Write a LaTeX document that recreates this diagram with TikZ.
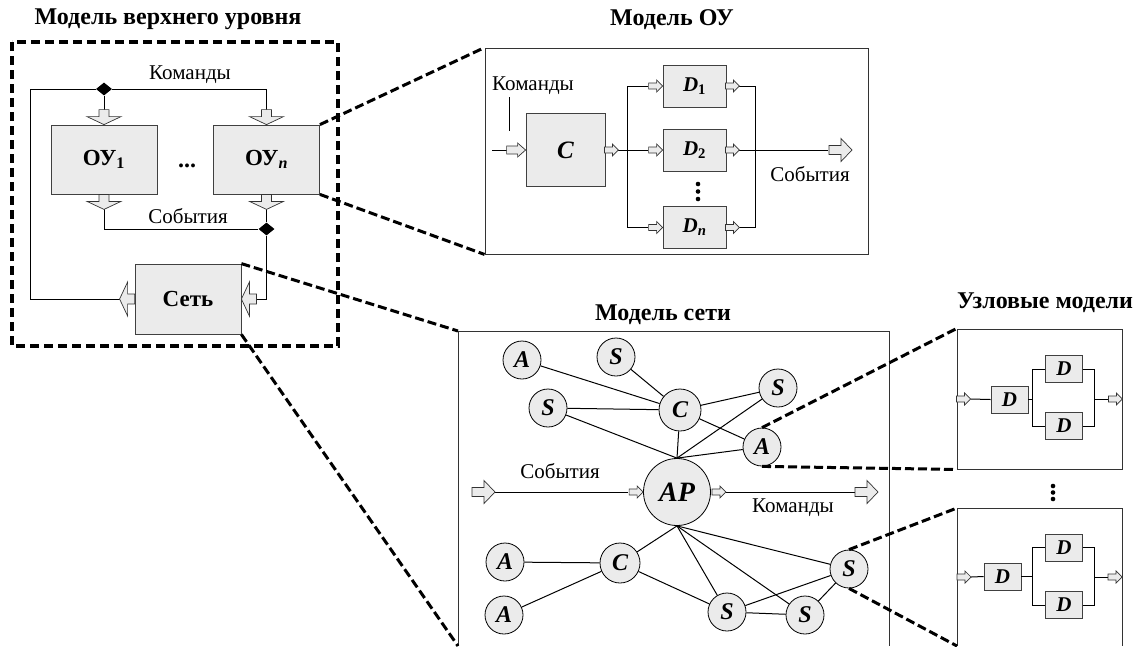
\documentclass[tikz,border=0pt]{standalone}
\usepackage{fontspec}
\setmainfont{Liberation Serif}
\usetikzlibrary{shapes.geometric,calc}
\definecolor{boxgray}{HTML}{EBEBEB}
\newcommand\fatarr[6]{\draw[farr,shift={(#1)},rotate=#2] (0pt,0pt) -- (-#6,#5) -- (-#6,#4) -- (-#3,#4) -- (-#3,-#4) -- (-#6,-#4) -- (-#6,-#5) -- cycle;}
\newcommand\arrA[2]{\fatarr{#1}{#2}{15pt}{5pt}{17pt}{8pt}}
\newcommand\arrS[2]{\fatarr{#1}{#2}{14pt}{3pt}{6pt}{6pt}}
\newcommand\arrM[2]{\fatarr{#1}{#2}{19pt}{4pt}{7pt}{8pt}}
\newcommand\arrL[2]{\fatarr{#1}{#2}{23pt}{4.5pt}{11.5pt}{11pt}}
\begin{document}
\begin{tikzpicture}[x=1pt,y=-1pt,
  farr/.style={draw=black!80,fill=boxgray,line width=0.7pt,line join=miter},
  ln/.style={draw=black,line width=1pt},
  box/.style={draw=black!75,fill=boxgray,line width=0.8pt,inner sep=0pt},
  tlbox/.style={box,minimum width=106,minimum height=69,font=\bfseries\fontsize{23}{26}\selectfont},
  dbox/.style={box,minimum width=63,minimum height=42,font=\bfseries\itshape\fontsize{21}{22}\selectfont},
  sbox/.style={box,minimum width=37,minimum height=27,font=\bfseries\itshape\fontsize{21}{22}\selectfont},
  circ/.style={circle,draw=black,fill=boxgray,line width=0.8pt,minimum size=38,inner sep=0pt,font=\bfseries\itshape\fontsize{24}{24}\selectfont},
  frame/.style={draw=black!80,line width=0.9pt},
  dia/.style={diamond,fill=black,inner sep=0pt,minimum width=16,minimum height=13},
  ttl/.style={font=\bfseries\fontsize{24}{28}\selectfont},
  lbl/.style={font=\fontsize{21}{24}\selectfont},
  framedash/.style={line width=3.5pt,dash pattern=on 9pt off 5pt},
  zoomline/.style={line width=3pt,dash pattern=on 9pt off 4pt},
  ]
\path[use as bounding box] (0,0) rectangle (1139,646);

% ---------- titles
\node[ttl] (t1) at (168,19) {Модель верхнего уровня};
\node[ttl] (t2) at (672,20) {Модель ОУ};
\node[ttl] (t3) at (663,315) {Модель сети};
\node[ttl] (t4) at (1045,303) {Узловые модели};

% ---------- top-level model
\draw[framedash] (12,42) rectangle (338,346);
\node[tlbox] (oy1) at (104,159.5) {ОУ\textsubscript{1}};
\node[tlbox] (oyn) at (266.5,159.5) {ОУ\textsubscript{\textit{n}}};
\node[font=\bfseries\fontsize{24}{26}\selectfont] (dd) at (187,166) {...};
\node[tlbox,minimum height=70] (net) at (188,299) {Сеть};
\node[dia] (dk) at (104,89) {};
\node[dia] (de) at (266.5,229) {};
\node[lbl] (lk) at (190,75) {Команды};
\node[lbl] (le) at (188,216) {События};
\coordinate (cl) at (30,89);

\draw[ln] (dk) -- ($(oy1.north)+(0,-15)$);
\draw[ln] ($(oyn.north)+(0,-15)$) |- (dk.east);
\draw[ln] (dk.west) -- (cl) |- ($(net.west)+(-15,0)$);
\draw[ln] ($(oy1.south)+(0,15)$) |- (de.west);
\draw[ln] ($(oyn.south)+(0,15)$) -- (de.north);
\draw[ln] (de.south) |- ($(net.east)+(15,0)$);
\arrA{oy1.north}{-90}
\arrA{oyn.north}{-90}
\arrA{$(oy1.south)+(0,15)$}{-90}
\arrA{$(oyn.south)+(0,15)$}{-90}
\arrA{net.east}{180}
\arrA{$(net.west)+(-15,0)$}{180}

% ---------- OY model
\node[frame,draw,minimum width=383,minimum height=206,inner sep=0pt] (oyb) at (676.5,151) {};
\node[box,minimum width=79,minimum height=73,font=\bfseries\itshape\fontsize{25}{26}\selectfont] (C) at (565.5,150) {C};
\node[dbox] (D1) at (694.5,86) {D\textsubscript{\textup{1}}};
\node[dbox] (D2) at (694.5,150) {D\textsubscript{\textup{2}}};
\node[dbox] (Dn) at (694.5,227.5) {D\textsubscript{n}};
\node[lbl] (lk2) at (533,86) {Команды};
\node[lbl] (le2) at (810,174) {События};
\coordinate (kin) at (492,150);
\coordinate (oyout) at (852,150);
\draw[ln] (509,97) -- (509,131);
\draw[ln] (kin) -- ($(C.west)+(-19,0)$);
\arrM{C.west}{0}
\draw[ln] ($(C.east)+(13,0)$) -- ($(D2.west)+(-15,0)$);
\arrS{$(C.east)+(13,0)$}{0}
\draw[ln] ($(D1.west)+(-15,0)$) -| ($(Dn.west)+(-35,0)$) -- ($(Dn.west)+(-15,0)$);
\arrS{D1.west}{0}
\arrS{D2.west}{0}
\arrS{Dn.west}{0}
\draw[ln] ($(D1.east)+(13,0)$) -| ($(Dn.east)+(29,0)$) -- ($(Dn.east)+(13,0)$);
\draw[ln] ($(D2.east)+(13,0)$) -- ($(oyout)+(-24,0)$);
\arrS{$(D1.east)+(13,0)$}{0}
\arrS{$(D2.east)+(13,0)$}{0}
\arrS{$(Dn.east)+(13,0)$}{0}
\arrL{oyout}{0}
\fill (698,184) circle (2.3) (698,191.5) circle (2.3) (698,199) circle (2.3);

% ---------- network model
\coordinate (nbtl) at (458,331);
\coordinate (nbbl) at (458,646);
\draw[frame] (nbbl) -- (nbtl) -- (889,331) -- (889,646);
\node[circ] (A1) at (522,360) {A};
\node[circ] (S1) at (616,357) {S};
\node[circ] (S2) at (548,408) {S};
\node[circ,minimum size=42] (C1) at (680,410) {C};
\node[circ] (S3) at (778,388) {S};
\node[circ] (A2) at (762,447) {A};
\node[circ,minimum size=67,font=\bfseries\itshape\fontsize{28}{28}\selectfont] (AP) at (677,492) {AP};
\node[circ] (A3) at (505,562) {A};
\node[circ,minimum size=40] (C2) at (620,563) {C};
\node[circ] (A4) at (504,615) {A};
\node[circ] (S4) at (727,612) {S};
\node[circ] (S5) at (805,615) {S};
\node[circ] (S6) at (849,569) {S};
\draw[ln] (A1) -- (C1);
\draw[ln] (S1) -- (C1);
\draw[ln] (S2) -- (C1);
\draw[ln] (S2) -- (AP.north);
\draw[ln] (C1) -- (AP.north);
\draw[ln] (C1) -- (S3);
\draw[ln] (C1) -- (A2);
\draw[ln] (AP.north) -- (S3);
\draw[ln] (AP.north) -- (A2);
\draw[ln] (AP.south) -- (C2);
\draw[ln] (C2) -- (A3);
\draw[ln] (C2) -- (A4);
\draw[ln] (C2) -- (S4);
\draw[ln] (AP.south) -- (S4);
\draw[ln] (AP.south) -- (S5);
\draw[ln] (AP.south) -- (S6);
\draw[ln] (S4) -- (S6);
\draw[ln] (S4) -- (S5);
\draw[ln] (S5) -- (S6);
\coordinate (ein) at (495,492);
\coordinate (eout) at (878,492);
\draw[ln] (ein) -- ($(AP.west)+(-15,0)$);
\draw[ln] ($(AP.east)+(15,0)$) -- ($(eout)+(-23,0)$);
\arrL{ein}{0}
\arrS{AP.west}{0}
\arrS{$(AP.east)+(15,0)$}{0}
\arrL{eout}{0}
\node[lbl] (le3) at (560,471) {События};
\node[lbl] (lk3) at (793,508) {Команды};

% ---------- node models
\node[frame,draw,minimum width=165,minimum height=140,inner sep=0pt] (m1) at (1039.5,399) {};
\coordinate (m2tl) at (957,508);
\coordinate (m2bl) at (957,646);
\draw[frame] (m2bl) -- (m2tl) -- (1122,508) -- (1122,646);
\node[sbox] (m1d) at (1009.5,399.5) {D};
\node[sbox] (m1u) at (1064,369) {D};
\node[sbox] (m1l) at (1064,426) {D};
\draw[ln] ($(m1.west)+(14,0)$) -- (m1d.west);
\draw[ln] (m1d.east) -- ++(4,0);
\draw[ln] (m1u.west) -| ($(m1d.east)+(4,0)$) |- (m1l.west);
\draw[ln] (m1u.east) -- ++(12,0) |- (m1l.east);
\draw[ln] ($(m1.east)+(-28,0)$) -- ($(m1.east)+(-14,0)$);
\arrS{$(m1.west)+(14,0)$}{0}
\arrS{m1.east}{0}
\coordinate (m2in) at (971,577);
\coordinate (m2out) at (1122,577);
\node[sbox] (m2d) at (1002.5,576.5) {D};
\node[sbox] (m2u) at (1064,547.5) {D};
\node[sbox] (m2l) at (1064,605) {D};
\draw[ln] (m2in) -- (m2d.west);
\draw[ln] (m2d.east) -- ++(11,0);
\draw[ln] (m2u.west) -| ($(m2d.east)+(11,0)$) |- (m2l.west);
\draw[ln] (m2u.east) -- ++(12,0) |- (m2l.east);
\draw[ln] ($(m2out)+(-28,0)$) -- ($(m2out)+(-14,0)$);
\arrS{m2in}{0}
\arrS{m2out}{0}
\fill (1053,486) circle (2.3) (1053,492.5) circle (2.3) (1053,499) circle (2.3);

% ---------- zoom lines
\draw[zoomline] (oyn.north east) -- (oyb.north west);
\draw[zoomline] (oyn.south east) -- (oyb.south west);
\draw[zoomline] (net.north east) -- (nbtl);
\draw[zoomline] (net.south east) -- (nbbl);
\draw[zoomline] (A2.north) -- (m1.north west);
\draw[zoomline] (A2.south) -- (m1.south west);
\draw[zoomline] (S6.north) -- (m2tl);
\draw[zoomline] (S6.south) -- (m2bl);
\end{tikzpicture}
\end{document}
